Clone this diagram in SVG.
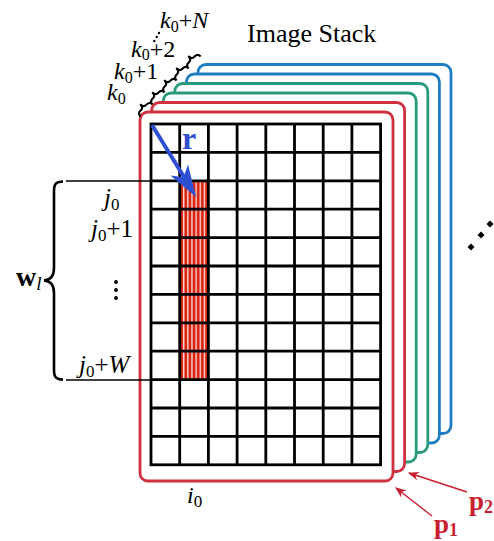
<svg xmlns="http://www.w3.org/2000/svg" width="494" height="541" viewBox="0 0 494 541">
<style>
.fr{fill:#fff;stroke-width:2.8}
.red{stroke:#d1303e}
.grn{stroke:#2a9a7c}
.blu{stroke:#1f7ec1}
.grid{stroke:#000;stroke-width:2.8;fill:none}
.t{font-family:"Liberation Serif","DejaVu Serif",serif;fill:#000}
.it{font-style:italic}
.thin{stroke:#000;stroke-width:1.3}
</style>
<defs>
<pattern id="stripes" patternUnits="userSpaceOnUse" x="180" y="0" width="4.1" height="10">
<rect x="0" y="0" width="4.1" height="10" fill="#fff"/>
<rect x="0.3" y="0" width="2.9" height="10" fill="#d8220e"/>
</pattern>
<marker id="ar" viewBox="0 0 10 10" refX="9" refY="5" markerWidth="11" markerHeight="11" markerUnits="userSpaceOnUse" orient="auto">
<path d="M0,1 L10,5 L0,9 L3,5 Z" fill="#c8202f"/>
</marker>
</defs>

<text class="t" x="247" y="42" font-size="26">Image Stack</text>

<g id="frames">
<rect id="frame-blue2" class="fr blu" x="198" y="64.5" width="253" height="369" rx="8"/>
<rect id="frame-blue1" class="fr blu" x="186.4" y="74" width="253" height="369" rx="8"/>
<rect id="frame-green2" class="fr grn" x="174.8" y="83.5" width="253" height="369" rx="8"/>
<rect id="frame-green1" class="fr grn" x="163.2" y="93" width="253" height="369" rx="8"/>
<rect id="frame-red2" class="fr red" x="151.6" y="102.5" width="253" height="369" rx="8"/>
<rect id="frame-red1" class="fr red" x="140" y="112" width="253" height="369" rx="8"/>
</g>

<g id="grid">
<rect x="179.7" y="180.8" width="28.7" height="198.8" fill="url(#stripes)"/>
<rect class="grid" x="151" y="124" width="229.6" height="340.8"/>
<path class="grid" d="M179.7,124V464.8 M208.4,124V464.8 M237.1,124V464.8 M265.8,124V464.8 M294.5,124V464.8 M323.2,124V464.8 M351.9,124V464.8
M151,152.4H380.6 M151,180.8H380.6 M151,209.2H380.6 M151,237.6H380.6 M151,266H380.6 M151,294.4H380.6 M151,322.8H380.6 M151,351.2H380.6 M151,379.6H380.6 M151,408H380.6 M151,436.4H380.6"/>
</g>

<g id="r-vector">
<line x1="152" y1="125" x2="184" y2="177" stroke="#2f4fd2" stroke-width="4"/>
<polygon points="196,197 170.5,175.5 183.5,177.2 188,164.5" fill="#2f4fd2"/>
<text class="t" x="182" y="149" font-size="32" font-weight="bold" style="fill:#2f4fd2">r</text>
</g>

<g id="k-labels">
<path d="M0,5 Q0,0.8 4,0.8 L5,0.8 Q8.5,0.8 8.5,-4 Q8.5,0.8 12,0.8 L13,0.8 Q17,0.8 17,5 M17,5 Q17,0.8 21,0.8 L22,0.8 Q25.5,0.8 25.5,-4 Q25.5,0.8 29,0.8 L30,0.8 Q34,0.8 34,5 M34,5 Q34,0.8 38,0.8 L39,0.8 Q42.5,0.8 42.5,-4 Q42.5,0.8 46,0.8 L47,0.8 Q51,0.8 51,5 M51,5 Q51,0.8 55,0.8 L56,0.8 Q59.5,0.8 59.5,-4 Q59.5,0.8 63,0.8 L64,0.8 Q68,0.8 68,5 M68,5 Q68,0.8 72,0.8 L73,0.8 Q76.5,0.8 76.5,-4 Q76.5,0.8 80,0.8 L81,0.8 Q85,0.8 85,5" transform="translate(137,113) rotate(-45)" fill="none" stroke="#000" stroke-width="2.1"/>
<text class="t" x="107" y="100" font-size="24"><tspan class="it">k</tspan><tspan font-size="16" dy="4">0</tspan></text>
<text class="t" x="114" y="79" font-size="24"><tspan class="it">k</tspan><tspan font-size="16" dy="4">0</tspan><tspan dy="-4">+1</tspan></text>
<text class="t" x="131" y="57" font-size="24"><tspan class="it">k</tspan><tspan font-size="16" dy="3">0</tspan><tspan dy="-3">+2</tspan></text>
<circle cx="154.3" cy="41" r="1.2"/>
<circle cx="156.7" cy="37" r="1.2"/>
<circle cx="159" cy="33" r="1.2"/>
<text class="t" x="160" y="28" font-size="24"><tspan class="it">k</tspan><tspan font-size="16" dy="4">0</tspan><tspan dy="-4">+</tspan><tspan class="it">N</tspan></text>
</g>

<g id="window">
<line class="thin" x1="66" y1="181" x2="151" y2="181"/>
<line class="thin" x1="66" y1="380" x2="151" y2="380"/>
<path d="M63,181.5 C56,181.5 54,184 54,191 L54,268 C54,275 51,280 44,280.5 C51,281 54,286 54,293 L54,370 C54,377 56,379.5 63,379.5" fill="none" stroke="#000" stroke-width="2.6"/>
<text class="t" x="16" y="286" font-size="28" font-weight="bold">w<tspan font-weight="normal" class="it" font-size="19" dy="4">l</tspan></text>
<text class="t" x="104" y="206" font-size="25"><tspan class="it">j</tspan><tspan font-size="17" dy="4">0</tspan></text>
<text class="t" x="91" y="237" font-size="25"><tspan class="it">j</tspan><tspan font-size="17" dy="4">0</tspan><tspan dy="-4">+1</tspan></text>
<circle cx="116" cy="282" r="1.9"/>
<circle cx="116" cy="290" r="1.9"/>
<circle cx="116" cy="298" r="1.9"/>
<text class="t" x="79" y="373" font-size="25"><tspan class="it">j</tspan><tspan font-size="17" dy="4">0</tspan><tspan dy="-4">+</tspan><tspan class="it">W</tspan></text>
</g>

<text id="i0" class="t" x="187" y="503" font-size="24"><tspan class="it">i</tspan><tspan font-size="17" dy="4">0</tspan></text>

<g id="more-dots">
<polygon points="471,243.5 474.5,247 471,250.5 467.5,247"/>
<polygon points="481,231.5 484.5,235 481,238.5 477.5,235"/>
<polygon points="490,220.5 493.5,224 490,227.5 486.5,224"/>
</g>

<g id="connectors">
<line x1="432" y1="516" x2="396" y2="488" stroke="#c8202f" stroke-width="1.4" marker-end="url(#ar)"/>
<line x1="467" y1="492" x2="409" y2="473" stroke="#c8202f" stroke-width="1.4" marker-end="url(#ar)"/>
</g>

<g id="p-labels">
<text class="t" x="434" y="533" font-size="27" font-weight="bold" style="fill:#c8202f">p<tspan font-size="18" dy="3">1</tspan></text>
<text class="t" x="469" y="510" font-size="27" font-weight="bold" style="fill:#c8202f">p<tspan font-size="18" dy="3">2</tspan></text>
</g>
</svg>
